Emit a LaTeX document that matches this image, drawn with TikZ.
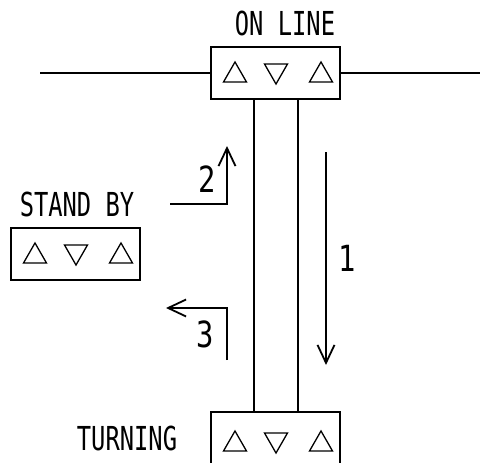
\documentclass[tikz,border=0pt]{standalone}
\usepackage{fontspec}
\newfontfamily\lblfont[FakeStretch=0.72]{DejaVu Sans Mono}
\newfontfamily\numfont[FakeStretch=0.8]{DejaVu Sans Mono}
\usetikzlibrary{arrows.meta,calc}
\begin{document}
\begin{tikzpicture}[x=1pt,y=-1pt,
  box/.style={draw,line width=2.2pt,minimum width=129pt,minimum height=52pt,inner sep=0pt},
  lbl/.style={font=\lblfont\fontsize{33}{33}\selectfont,inner sep=0pt},
  num/.style={font=\numfont\fontsize{36}{36}\selectfont,inner sep=0pt},
  wire/.style={line width=2pt},
  tri/.style={line width=1.3pt},
  arr/.style={line width=1.8pt,-{Straight Barb[length=18pt,width=17pt,line width=1.8pt]}}]
\useasboundingbox (0,0) rectangle (480,463);
% boxes
\node[box] (top) at (275.5,73) {};
\node[box] (sb) at (75.5,254) {};
\node[box,minimum height=60pt] (bot) at (275.5,442) {};
% triangles
\foreach \b in {top,sb,bot}{
  \path (\b.center) coordinate (c);
  \draw[tri] ($(c)+(-52,9)$) -- ++(23,0) -- ++(-11.5,-20) -- cycle;
  \draw[tri] ($(c)+(-11,-9)$) -- ++(23,0) -- ++(-11.5,20) -- cycle;
  \draw[tri] ($(c)+(34,9)$) -- ++(23,0) -- ++(-11.5,-20) -- cycle;
}
% labels
\node[lbl] (onl) at (285,23) {ON LINE};
\node[lbl] (stb) at (77,204) {STAND BY};
\node[lbl] (trn) at (127,438) {TURNING};
% horizontal line through top box
\coordinate (L) at (40,73);
\coordinate (R) at (480,73);
\draw[wire] (L) -- (top.west);
\draw[wire] (top.east) -- (R);
% shaft
\draw[wire] (254,99) -- (254,412);
\draw[wire] (298,99) -- (298,412);
% arrow 1
\coordinate (a1s) at (326,152);
\coordinate (a1e) at (326,365);
\draw[arr] (a1s) -- (a1e);
\node[num] (n1) at (347,258) {1};
% arrow 2
\coordinate (a2s) at (170,204);
\coordinate (a2c) at (227,204);
\coordinate (a2e) at (227,146);
\draw[arr] (a2s) -- (a2c) -- (a2e);
\node[num] (n2) at (207,179) {2};
% arrow 3
\coordinate (a3s) at (227,360);
\coordinate (a3c) at (227,308);
\coordinate (a3e) at (166,308);
\draw[arr] (a3s) -- (a3c) -- (a3e);
\node[num] (n3) at (205,334) {3};
\end{tikzpicture}
\end{document}
